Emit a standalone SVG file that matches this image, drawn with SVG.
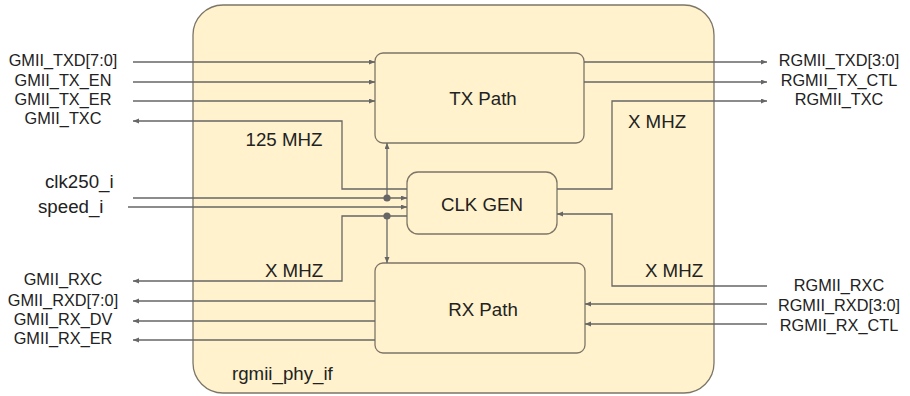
<svg xmlns="http://www.w3.org/2000/svg" width="910" height="396" viewBox="0 0 910 396">
  <style>
    .blk { fill: #fff2cc; stroke: #7c7668; stroke-width: 1.3; }
    .wire { fill: none; stroke: #666; stroke-width: 1.3; }
    .sig { font-family: "Liberation Sans", Arial, sans-serif; font-size: 16.3px; fill: #222; }
    .lbl { font-family: "Liberation Sans", Arial, sans-serif; font-size: 18.7px; fill: #222; }
    .mid { text-anchor: middle; }
  </style>
  <defs>
    <marker id="arr" markerUnits="userSpaceOnUse" markerWidth="7" markerHeight="6" refX="6" refY="2.5" orient="auto">
      <path d="M0,0 L6,2.5 L0,5 z" fill="#666"/>
    </marker>
  </defs>
  <rect width="910" height="396" fill="#ffffff"/>

  <!-- outer module -->
  <g id="rgmii_phy_if">
    <rect class="blk" x="193" y="5" width="521" height="388" rx="30" ry="30"/>
    <text class="lbl" x="232" y="380">rgmii_phy_if</text>
  </g>

  <g id="tx_path">
    <rect class="blk" x="375" y="53" width="209" height="90" rx="8" ry="8"/>
    <text class="lbl mid" x="483" y="105">TX Path</text>
  </g>

  <g id="clk_gen">
    <rect class="blk" x="407" y="172" width="150" height="62" rx="11" ry="11"/>
    <text class="lbl mid" x="482" y="211">CLK GEN</text>
  </g>

  <g id="rx_path">
    <rect class="blk" x="375" y="263" width="210" height="90" rx="8" ry="8"/>
    <text class="lbl mid" x="483" y="316">RX Path</text>
  </g>

  <!-- connectors -->
  <g id="connectors" class="wire">
    <path d="M133,62 H375" marker-end="url(#arr)"/>
    <path d="M133,82 H375" marker-end="url(#arr)"/>
    <path d="M133,101 H375" marker-end="url(#arr)"/>
    <path d="M407,189 H342 V121 H133" marker-end="url(#arr)"/>
    <path d="M133,198 H407" marker-end="url(#arr)"/>
    <path d="M128,207 H407" marker-end="url(#arr)"/>
    <path d="M387,198 V143" marker-end="url(#arr)"/>
    <path d="M407,216 H342 V281 H133" marker-end="url(#arr)"/>
    <path d="M387,216 V263" marker-end="url(#arr)"/>
    <path d="M375,301 H133" marker-end="url(#arr)"/>
    <path d="M375,321 H133" marker-end="url(#arr)"/>
    <path d="M375,340 H133" marker-end="url(#arr)"/>
    <path d="M584,62 H767" marker-end="url(#arr)"/>
    <path d="M584,82 H767" marker-end="url(#arr)"/>
    <path d="M557,189 H612 V101 H767" marker-end="url(#arr)"/>
    <path d="M767,286 H612 V214 H557" marker-end="url(#arr)"/>
    <path d="M767,304 H585" marker-end="url(#arr)"/>
    <path d="M767,324 H585" marker-end="url(#arr)"/>
    <circle cx="387" cy="198" r="3.6" fill="#666" stroke="none"/>
    <circle cx="387" cy="216" r="3.6" fill="#666" stroke="none"/>
  </g>

  <!-- clock labels -->
  <g id="clock_labels">
    <text class="lbl mid" x="284" y="146">125 MHZ</text>
    <text class="lbl mid" x="657" y="128">X MHZ</text>
    <text class="lbl mid" x="294" y="277">X MHZ</text>
    <text class="lbl mid" x="674" y="277">X MHZ</text>
  </g>

  <!-- port names -->
  <g id="gmii_ports">
    <text class="sig mid" x="63" y="66">GMII_TXD[7:0]</text>
    <text class="sig mid" x="63" y="86">GMII_TX_EN</text>
    <text class="sig mid" x="63" y="105">GMII_TX_ER</text>
    <text class="sig mid" x="63" y="124">GMII_TXC</text>
    <text class="lbl" x="45" y="188">clk250_i</text>
    <text class="lbl" x="38" y="213">speed_i</text>
    <text class="sig mid" x="63" y="285">GMII_RXC</text>
    <text class="sig mid" x="63" y="306">GMII_RXD[7:0]</text>
    <text class="sig mid" x="63" y="325">GMII_RX_DV</text>
    <text class="sig mid" x="63" y="344">GMII_RX_ER</text>
  </g>

  <g id="rgmii_ports">
    <text class="sig mid" x="839" y="66">RGMII_TXD[3:0]</text>
    <text class="sig mid" x="839" y="86">RGMII_TX_CTL</text>
    <text class="sig mid" x="839" y="105">RGMII_TXC</text>
    <text class="sig mid" x="839" y="291">RGMII_RXC</text>
    <text class="sig mid" x="839" y="311">RGMII_RXD[3:0]</text>
    <text class="sig mid" x="839" y="331">RGMII_RX_CTL</text>
  </g>
</svg>
